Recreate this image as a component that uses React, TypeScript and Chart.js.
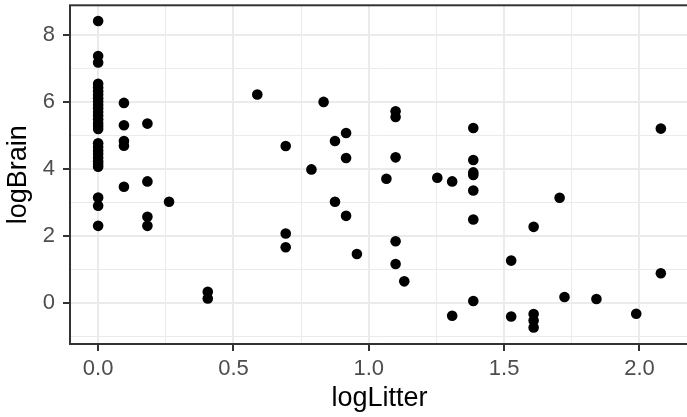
import React, { useEffect, useRef } from "react";
import { Chart, registerables } from "chart.js";

Chart.register(...registerables);

// ---- data ----
const logLitter: number[] = [
  0, 0, 0,
  0, 0, 0, 0, 0, 0, 0, 0, 0, 0, 0, 0, 0, 0,
  0, 0, 0, 0, 0, 0, 0, 0,
  0, 0, 0,
  0.0953, 0.0953, 0.0953, 0.0953, 0.0953,
  0.182, 0.182, 0.182, 0.182,
  0.262,
  0.405, 0.405,
  0.588,
  0.693, 0.693, 0.693,
  0.788,
  0.833,
  0.875, 0.875,
  0.916, 0.916, 0.916,
  0.956,
  1.065,
  1.099, 1.099, 1.099, 1.099, 1.099,
  1.131,
  1.253,
  1.308, 1.308,
  1.386, 1.386, 1.386, 1.386, 1.386, 1.386, 1.386,
  1.526, 1.526,
  1.609, 1.609, 1.609, 1.609,
  1.705,
  1.723,
  1.841,
  1.988,
  2.079, 2.079,
];

const logBrain: number[] = [
  8.43, 7.38, 7.19,
  6.55, 6.44, 6.33, 6.22, 6.12, 6.02, 5.92, 5.82, 5.71, 5.6, 5.49, 5.38, 5.29, 5.2,
  4.77, 4.66, 4.55, 4.45, 4.34, 4.23, 4.15, 4.07,
  3.15, 2.9, 2.3,
  5.98, 5.31, 4.84, 4.7, 3.47,
  5.36, 3.63, 2.57, 2.3,
  3.02,
  0.33, 0.13,
  6.23,
  4.69, 2.07, 1.66,
  3.99,
  6.01,
  4.84, 3.02,
  5.08, 4.33, 2.6,
  1.46,
  3.71,
  5.73, 5.56, 4.35, 1.84, 1.16,
  0.64,
  3.74,
  3.63, -0.39,
  5.23, 4.27, 3.9, 3.82, 3.36, 2.49, 0.05,
  1.26, -0.41,
  2.27, -0.34, -0.53, -0.74,
  3.14,
  0.17,
  0.11,
  -0.33,
  5.21, 0.88,
];

const xTickValues: number[] = [0, 0.25, 0.5, 0.75, 1, 1.25, 1.5, 1.75, 2];
const xMajorTicks: number[] = [0, 0.5, 1, 1.5, 2];
const yTickValues: number[] = [-1, 0, 1, 2, 3, 4, 5, 6, 7, 8];
const yMajorTicks: number[] = [0, 2, 4, 6, 8];

const xTitle = "logLitter";
const yTitle = "logBrain";

const FONT = "'Liberation Sans', Arial, Helvetica, sans-serif";

const isIn = (arr: number[], v: number) => arr.some((a) => Math.abs(a - v) < 1e-9);

const panelBorder = {
  id: "panelBorder",
  afterDatasetsDraw(chart: any) {
    const { ctx, chartArea } = chart;
    const { left, top, right, bottom } = chartArea;
    ctx.save();
    ctx.strokeStyle = "#333333";
    ctx.lineWidth = 2;
    ctx.strokeRect(left, top, right - left, bottom - top);
    ctx.restore();
  },
};

export default function App() {
  const ref = useRef<HTMLCanvasElement | null>(null);

  useEffect(() => {
    if (!ref.current) return;
    const points = logLitter.map((x, i) => ({ x, y: logBrain[i] }));

    const gridFor = (majors: number[]) => ({
      color: "#EBEBEB",
      lineWidth: (c: any) => (c.tick && isIn(majors, c.tick.value) ? 2 : 1),
      tickColor: (c: any) =>
        c.tick && isIn(majors, c.tick.value) ? "#333333" : "rgba(0,0,0,0)",
      tickWidth: 2,
      tickLength: 7,
      drawTicks: true,
    });

    const chart = new Chart(ref.current, {
      type: "scatter",
      data: {
        datasets: [
          {
            data: points,
            backgroundColor: "#000000",
            borderWidth: 0,
            pointRadius: 5.3,
            pointHoverRadius: 5.3,
          },
        ],
      },
      options: {
        animation: false,
        responsive: false,
        maintainAspectRatio: false,
        devicePixelRatio: 1,
        layout: { padding: { top: 5, right: 11, bottom: 0, left: 0 } },
        plugins: { legend: { display: false }, tooltip: { enabled: false } },
        scales: {
          x: {
            type: "linear",
            bounds: "data",
            min: -0.104,
            max: 2.183,
            afterBuildTicks: (s: any) => {
              s.ticks = xTickValues.map((v) => ({ value: v }));
            },
            afterFit: (s: any) => {
              s.height = 73;
              s.paddingLeft = 0;
              s.paddingRight = 0;
            },
            ticks: {
              autoSkip: false,
              maxRotation: 0,
              minRotation: 0,
              padding: 5,
              color: "#4D4D4D",
              font: { family: FONT, size: 22 },
              callback: (v: any) => (isIn(xMajorTicks, Number(v)) ? Number(v).toFixed(1) : ""),
            },
            grid: gridFor(xMajorTicks),
            border: { display: false },
            title: {
              display: true,
              text: xTitle,
              color: "#000000",
              font: { family: FONT, size: 27 },
              padding: { top: 0, bottom: 2 },
            },
          },
          y: {
            type: "linear",
            bounds: "data",
            min: -1.235,
            max: 8.9,
            afterBuildTicks: (s: any) => {
              s.ticks = yTickValues.map((v) => ({ value: v }));
            },
            afterFit: (s: any) => {
              s.width = 70;
              s.paddingTop = 0;
              s.paddingBottom = 0;
            },
            ticks: {
              autoSkip: false,
              padding: 8,
              color: "#4D4D4D",
              font: { family: FONT, size: 22 },
              callback: (v: any) => (isIn(yMajorTicks, Number(v)) ? String(Number(v)) : ""),
            },
            grid: gridFor(yMajorTicks),
            border: { display: false },
            title: {
              display: true,
              text: yTitle,
              color: "#000000",
              font: { family: FONT, size: 27 },
              padding: { top: 2, bottom: 0 },
            },
          },
        },
      },
      plugins: [panelBorder],
    } as any);

    return () => chart.destroy();
  }, []);

  return (
    <div
      style={{
        position: "fixed",
        left: 0,
        top: 0,
        width: 687,
        height: 417,
        overflow: "hidden",
        background: "#ffffff",
      }}
    >
      <canvas ref={ref} width={700} height={417} style={{ display: "block", width: 700, height: 417 }} />
    </div>
  );
}
